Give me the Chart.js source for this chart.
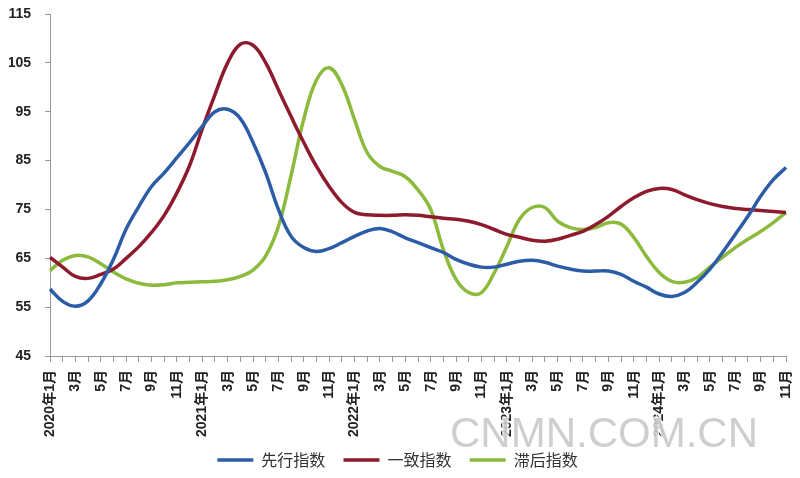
<!DOCTYPE html>
<html>
<head>
<meta charset="utf-8">
<script src="https://cdn.jsdelivr.net/npm/chart.js@4/dist/chart.umd.min.js"></script>
<style>
  html, body { margin: 0; padding: 0; background: #fff; }
  #wrap { width: 800px; height: 478px; }
</style>
</head>
<body>
<div id="wrap"><canvas id="chart"></canvas></div>
<script>
// months 2020年1月 .. 2024年11月
const months = [];
for (let y = 2020; y <= 2024; y++) {
  for (let m = 1; m <= 12; m++) {
    if (y === 2024 && m > 11) break;
    months.push(m === 1 ? y + '年1月' : m + '月');
  }
}

const leading = [
  58.7, 56.2, 55.2, 56.3, 59.8, 64.8, 71, 75.6, 79.7, 82.5,
  85.6, 88.7, 92, 95, 95.5, 93.6, 88.7, 82.5, 75, 69.5,
  67.2, 66.4, 67, 68.2, 69.5, 70.6, 71.1, 70.4, 69.2, 68.2,
  67.2, 66.2, 64.8, 63.8, 63.2, 63.2, 63.8, 64.4, 64.6, 64.2,
  63.4, 62.8, 62.4, 62.4, 62.4, 61.7, 60.3, 59.1, 57.7, 57.2,
  58, 60.1, 62.8, 66.2, 69.9, 73.6, 77.7, 81.1, 83.6
];
const coincident = [
  65.2, 63.2, 61.3, 60.9, 61.7, 62.8, 65, 67.4, 70.3, 73.8,
  78.4, 84, 91.5, 98.5, 105, 108.8, 108.6, 105, 99.5, 94,
  88.7, 83.8, 79.7, 76.4, 74.4, 73.9, 73.8, 73.8, 73.9, 73.8,
  73.5, 73.2, 73, 72.6, 71.9, 70.9, 69.9, 69.3, 68.7, 68.5,
  68.9, 69.7, 70.5, 71.9, 73.6, 75.6, 77.4, 78.7, 79.3, 79.1,
  78, 77, 76.2, 75.6, 75.2, 75, 74.8, 74.6, 74.4
];
const lagging = [
  62.5, 64.6, 65.6, 65.3, 63.9, 62.2, 60.8, 59.9, 59.5, 59.6,
  60, 60.1, 60.2, 60.3, 60.6, 61.3, 62.6, 65.5, 71.5, 82,
  93.5, 101.5, 104, 100.5, 93.4, 86.6, 83.8, 82.8, 81.7, 79,
  75, 66.8, 60.7, 58, 58, 62, 67.4, 73, 75.4, 75.4,
  72.6, 71.3, 70.9, 71.3, 72.3, 72, 69.3, 65.4, 62.1, 60.3,
  60.1, 61.1, 63.2, 65.2, 67.2, 68.9, 70.5, 72.3, 74.4
];
const yTicks = [45, 55, 65, 75, 85, 95, 105, 115];

const watermark = {
  id: 'watermark',
  afterDraw(chart) {
    const c = chart.ctx;
    c.save();
    c.font = '42px "Liberation Sans", Arial, sans-serif';
    c.textBaseline = 'alphabetic';
    c.lineWidth = 3;
    c.strokeStyle = 'rgba(255,255,255,0.8)';
    c.fillStyle = 'rgba(190,190,190,0.75)';
    c.strokeText('CNMN.COM.CN', 450, 447);
    c.fillText('CNMN.COM.CN', 450, 447);
    c.restore();
  }
};

const ds = (label, data, color) => ({
  label: label,
  data: data,
  borderColor: color,
  backgroundColor: color,
  borderWidth: 3.5,
  pointRadius: 0,
  tension: 0.4,
  fill: false
});

new Chart(document.getElementById('chart'), {
  type: 'line',
  data: {
    labels: months,
    datasets: [
      ds('先行指数', leading, '#2c5ca6'),
      ds('一致指数', coincident, '#8e1b2d'),
      ds('滞后指数', lagging, '#8cba3c')
    ]
  },
  options: {
    responsive: true,
    maintainAspectRatio: false,
    animation: false,
    layout: { padding: { top: 14, right: 14, left: 9, bottom: 0 } },
    plugins: {
      tooltip: { enabled: false },
      legend: {
        position: 'bottom',
        labels: {
          usePointStyle: true,
          pointStyle: 'line',
          pointStyleWidth: 36,
          color: '#333',
          font: { family: '"Noto Sans CJK SC", sans-serif', size: 16 },
          padding: 7,
          // a bit more room between legend items, like the original
          generateLabels: (chart) => Chart.defaults.plugins.legend.labels.generateLabels(chart)
            .map((l, i) => Object.assign(l, { text: i < 2 ? l.text + '\u2002\u2009' : l.text }))
        }
      }
    },
    scales: {
      x: {
        offset: false,
        afterFit: (axis) => { axis.paddingLeft = 0; axis.paddingRight = 0; },
        grid: { display: true, drawOnChartArea: false, drawTicks: true, tickLength: 6, color: '#999' },
        border: { color: '#999', width: 1 },
        ticks: {
          autoSkip: false,
          maxRotation: 90,
          minRotation: 90,
          color: '#222',
          padding: 8,
          font: { family: '"Liberation Sans", "Noto Sans CJK SC", sans-serif', size: 14, weight: 'bold' },
          callback: (v, i) => (i % 2 === 0 ? months[i] : '')
        }
      },
      y: {
        min: 45,
        max: 115,
        afterBuildTicks: (axis) => { axis.ticks = yTicks.map(v => ({ value: v })); },
        afterFit: (axis) => { axis.width = 41; axis.paddingTop = 0; axis.paddingBottom = 0; },
        grid: { display: true, drawOnChartArea: false, drawTicks: true, tickLength: 5, color: '#999' },
        border: { color: '#999', width: 1 },
        ticks: {
          color: '#222',
          padding: 14,
          font: { family: '"Liberation Sans", Arial, sans-serif', size: 14, weight: 'bold' }
        }
      }
    }
  },
  plugins: [watermark]
});
</script>
</body>
</html>
